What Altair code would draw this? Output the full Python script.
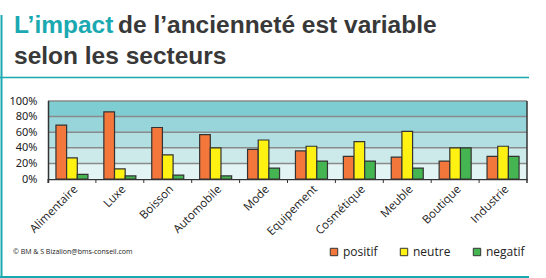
import altair as alt
import pandas as pd

# ---- data ----
sectors = ["Alimentaire", "Luxe", "Boisson", "Automobile", "Mode",
           "Equipement", "Cosmétique", "Meuble", "Boutique", "Industrie"]
positif = [69, 86, 66, 57, 38, 36, 29, 28, 23, 29]
neutre = [27, 13, 31, 40, 50, 42, 48, 61, 40, 42]
negatif = [6, 4, 5, 4, 14, 23, 23, 14, 40, 29]
series = ["positif", "neutre", "negatif"]
y_ticks = [0, 20, 40, 60, 80, 100]
grid_vals = [20, 40, 60, 80, 100]
band_lo = [0, 20, 40, 60, 80]
band_hi = [20, 40, 60, 80, 100]

# ---- styles ----
series_colors = ["#f3773a", "#fff212", "#45b552"]
band_colors = ["#e3f4f4", "#cdeaeb", "#b2dfe2", "#97d5db", "#7dcdd2"]
TEAL = "#1aa9b1"
DARK = "#333333"

W, H = 479, 78
OX, OY = 48, 101  # plot origin in page pixels

rows = []
for i, s in enumerate(sectors):
    for name, vals in zip(series, [positif, neutre, negatif]):
        rows.append({"secteur": s, "serie": name, "valeur": vals[i]})
df = pd.DataFrame(rows)

bands = pd.DataFrame({"lo": band_lo, "hi": band_hi, "c": band_colors})
grid = pd.DataFrame({"v": grid_vals})
cats = pd.DataFrame({"secteur": sectors})

yscale = alt.Scale(domain=[0, 100], nice=False)
xscale = alt.Scale(domain=sectors, paddingInner=0, paddingOuter=0)

yaxis = alt.Axis(title=None, values=y_ticks, grid=False, domain=False,
                 ticks=False, labelPadding=11,
                 labelExpr="datum.value + '%'", labelFont="Noto Sans",
                 labelFontSize=11, labelColor="#222")
xaxis = alt.Axis(title=None, labelAngle=315, labelAlign="right",
                 labelBaseline="top", ticks=False, domainColor=DARK,
                 domainWidth=1.5, labelPadding=4, labelFont="Open Sans",
                 labelFontSize=11.5, labelColor="#222")

bg = alt.Chart(bands).mark_rect().encode(
    y=alt.Y("lo:Q", scale=yscale, axis=yaxis),
    y2="hi:Q",
    x=alt.value(0), x2=alt.value(W),
    color=alt.Color("c:N", scale=None),
)

gridlines = alt.Chart(grid).mark_rule(color="#8a8a8a", strokeWidth=1.5).encode(
    y=alt.Y("v:Q", scale=yscale, axis=yaxis),
    x=alt.value(0), x2=alt.value(W),
)

bars = alt.Chart(df).mark_bar(stroke=DARK, strokeWidth=1.2).encode(
    x=alt.X("secteur:N", sort=sectors, scale=xscale, axis=xaxis),
    xOffset=alt.XOffset("serie:N", sort=series,
                        scale=alt.Scale(paddingInner=0, paddingOuter=0.745)),
    y=alt.Y("valeur:Q", scale=yscale, axis=yaxis),
    color=alt.Color("serie:N", sort=series,
                    scale=alt.Scale(domain=series, range=series_colors),
                    legend=alt.Legend(orient="none", legendX=280, legendY=145,
                                      direction="horizontal", title=None,
                                      symbolType="square", symbolSize=55,
                                      symbolStrokeColor=DARK, symbolStrokeWidth=1,
                                      symbolOpacity=1,
                                      labelFont="Open Sans", labelFontSize=12,
                                      labelColor="#222", columnPadding=20,
                                      labelOffset=3, padding=0)),
)

ticks = alt.Chart(cats).mark_rule(color=DARK, strokeWidth=1).encode(
    x=alt.X("secteur:N", sort=sectors, scale=xscale, bandPosition=0, axis=xaxis),
    y=alt.value(H), y2=alt.value(H + 4),
)

one = pd.DataFrame({"k": [0]})

edges = alt.Chart(one).mark_rule(color=DARK, strokeWidth=1.5).encode(
    x=alt.value(0.5), y=alt.value(0), y2=alt.value(H + 4))
edge_r = alt.Chart(one).mark_rule(color=DARK, strokeWidth=1.5).encode(
    x=alt.value(W), y=alt.value(0), y2=alt.value(H + 4))


def txt(t, px, py, size, color, font, weight="normal"):
    return alt.Chart(one).mark_text(align="left", baseline="alphabetic",
                                    font=font, fontSize=size, color=color,
                                    fontWeight=weight).encode(
        x=alt.value(px - OX), y=alt.value(py - OY), text=alt.value(t))


def hline(x1, x2, py, color, w):
    return alt.Chart(one).mark_rule(color=color, strokeWidth=w).encode(
        x=alt.value(x1 - OX), x2=alt.value(x2 - OX), y=alt.value(py - OY))


def vline(px, y1, y2, color, w):
    return alt.Chart(one).mark_rule(color=color, strokeWidth=w).encode(
        x=alt.value(px - OX), y=alt.value(y1 - OY), y2=alt.value(y2 - OY))


title1a = txt("L’impact", 14, 33, 24.5, TEAL, "Liberation Sans", "bold")
title1b = txt("de l’ancienneté est variable", 118, 33, 24.5, "#383838", "Liberation Sans", "bold")
title2 = txt("selon les secteurs", 14, 64, 24.5, "#383838", "Liberation Sans", "bold")
copy = txt("© BM & S Bizalion@bms-conseil.com", 13, 254, 7, "#222", "Open Sans")

frame = [vline(1.5, 15, 278, TEAL, 2), hline(0, 529, 77.5, TEAL, 1.5),
         hline(0, 529, 277, TEAL, 2)]

chart = alt.layer(
    bg, gridlines, bars, ticks, edges, edge_r,
    title1a, title1b, title2, copy, *frame
).properties(
    width=W, height=H,
    autosize=alt.AutoSizeParams(type="none"),
    padding={"left": OX, "top": OY, "right": 546 - OX - W, "bottom": 278 - OY - H},
).configure_view(stroke=None)

chart.save("out.html", embed_options={"renderer": "svg", "actions": False})
